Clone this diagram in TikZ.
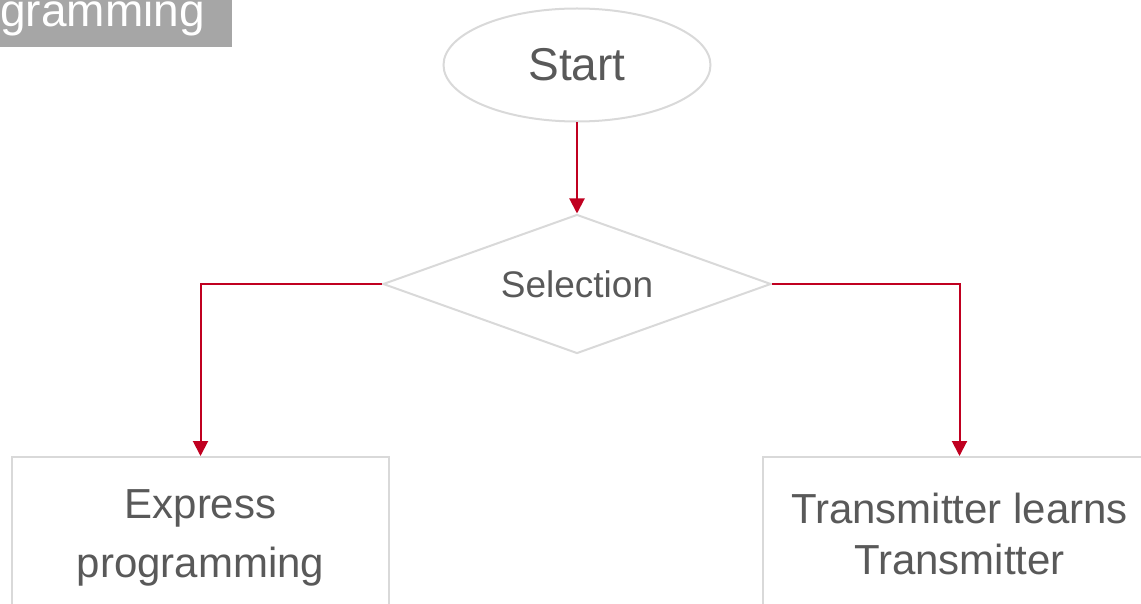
\documentclass[tikz,border=0pt]{standalone}
\usepackage{fontspec}
\setmainfont{Liberation Sans}
\usetikzlibrary{shapes.geometric,arrows.meta}
\definecolor{txtgray}{HTML}{595959}
\definecolor{linegray}{HTML}{D9D9D9}
\definecolor{lblgray}{HTML}{A6A6A6}
\definecolor{flowred}{HTML}{C00020}
\tikzset{
  px/.style={x=1pt,y=-1pt},
  shapeline/.style={draw=linegray,line width=2pt,text=txtgray,inner sep=0pt},
  startshape/.style={shapeline,ellipse,minimum width=267pt,minimum height=113pt,font=\fontsize{46}{55}\selectfont},
  decision/.style={shapeline,diamond,shape aspect=2.8,minimum width=388pt,minimum height=139pt,font=\fontsize{37}{44}\selectfont},
  actionbox/.style={shapeline,rectangle,align=center,anchor=north,font=\fontsize{42}{59}\selectfont},
  flow/.style={draw=flowred,line width=2pt,-{Triangle[width=15pt,length=15pt]}},
  label/.style={fill=lblgray,text=white,inner xsep=27pt,inner ysep=0pt,text height=60pt,text depth=20pt,anchor=base east,font=\fontsize{46}{54}\selectfont}
}
\begin{document}
\begin{tikzpicture}[px]
\useasboundingbox (0,0) rectangle (1141,604);
\node[label] (lbl) at (232,27) {gramming};
\node[startshape] (start) at (577,65) {Start};
\node[decision] (sel) at (577,284) {Selection};
\node[actionbox,minimum width=377pt,minimum height=162pt] (ebox) at (200.5,456) {Express\\programming};
\node[actionbox,minimum width=393pt,minimum height=154pt,font=\fontsize{42}{51}\selectfont] (tbox) at (959.5,456) {Transmitter learns\\Transmitter};
\draw[flow] (start.south) -- (sel.north);
\draw[flow] (sel.west) -| (ebox.north);
\draw[flow] (sel.east) -| (tbox.north);
\end{tikzpicture}
\end{document}
